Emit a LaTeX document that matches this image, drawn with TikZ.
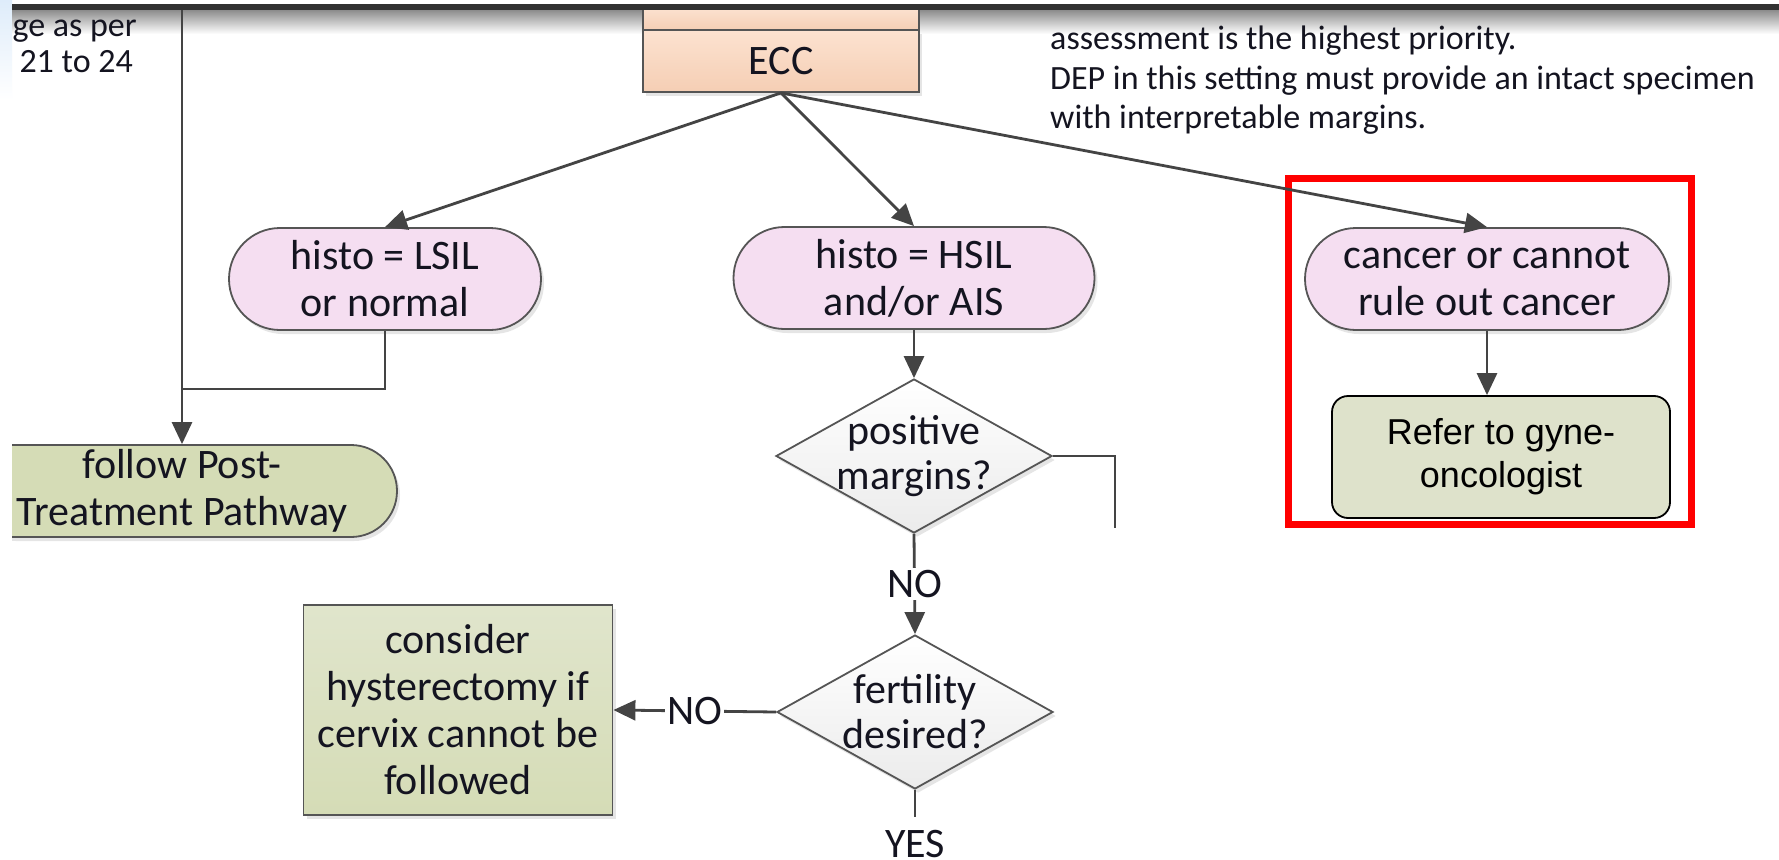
\documentclass[tikz,border=0pt]{standalone}
\usepackage{fontspec}
\setmainfont{Carlito}
\newfontfamily\arialf{Liberation Sans}
\usetikzlibrary{arrows.meta,shapes.geometric,shadows}
\definecolor{pinkf}{RGB}{245,222,241}
\definecolor{greenf}{RGB}{213,220,182}
\definecolor{greenl}{RGB}{224,229,204}
\definecolor{referf}{RGB}{222,226,203}
\definecolor{peachl}{RGB}{252,226,208}
\definecolor{peachd}{RGB}{245,206,180}
\definecolor{edgec}{RGB}{85,85,85}
\definecolor{arrc}{RGB}{68,68,68}
\definecolor{txtc}{RGB}{20,20,32}
\definecolor{barc}{RGB}{50,50,50}
\definecolor{bluel}{RGB}{222,236,250}
\definecolor{diag}{RGB}{235,235,235}
\tikzset{
  shad/.style={drop shadow={opacity=0.2, shadow xshift=3pt, shadow yshift=-4pt}},
  base/.style={draw=edgec, line width=1.8pt, text=txtc, align=center,
    font=\fontsize{42}{47}\selectfont, inner sep=0pt},
  pill/.style={base, shad, fill=pinkf, rounded corners=51pt, minimum height=102pt},
  eccbox/.style={base, top color=peachl, bottom color=peachd, minimum width=276pt},
  dia/.style={diamond, draw=edgec, line width=1.8pt, shad, top color=white, bottom color=diag,
    minimum width=276pt, minimum height=154pt, inner sep=0pt},
  dtext/.style={text=txtc, align=center, font=\fontsize{42}{45}\selectfont, inner sep=0pt},
  cons/.style={base, shad, top color=greenl, bottom color=greenf, minimum width=309pt, minimum height=210pt},
  post/.style={base, shad, fill=greenf, rounded corners=46pt, minimum height=92pt, minimum width=430pt},
  referbox/.style={draw=black, line width=1.8pt, fill=referf, rounded corners=16pt, align=center,
    font=\arialf\fontsize{36}{43}\selectfont, text=black, minimum width=338pt, minimum height=122pt, inner sep=0pt},
  lbl/.style={fill=white, inner sep=2pt, text=txtc, font=\fontsize{42}{47}\selectfont},
  ann/.style={text=txtc, inner sep=0pt, font=\fontsize{34}{39}\selectfont},
  arrowst/.style={draw=arrc, line width=2.8pt, -{Triangle[length=22pt,width=20pt]}},
  plainline/.style={draw=arrc, line width=2.8pt},
}
\begin{document}
\begin{tikzpicture}[x=1pt,y=-1pt]
\useasboundingbox (0,0) rectangle (1779,859);
\fill[white] (0,0) rectangle (1779,859);
\shade[top color=bluel, bottom color=white] (0,0) rectangle (12,100);
\begin{scope}
\clip (12,0) rectangle (1779,859);
% shadow under top bar
\shade[top color=black!45, bottom color=white] (12,10) rectangle (1779,34);
% left text
\node[ann, anchor=base east] (lt1) at (137,37) {nge as per};
\node[ann, anchor=base east] (lt2) at (133,72) {21 to 24};
% annotation text
\node[ann, anchor=base west] (a1) at (1050,50) {assessment is the highest priority.};
\node[ann, anchor=base west] (a2) at (1050,89) {DEP in this setting must provide an intact specimen};
\node[ann, anchor=base west] (a3) at (1050,128) {with interpretable margins.};
% ECC
\node[eccbox, minimum height=22pt] (upper) at (781,19) {};
\node[eccbox, shad, minimum height=62pt] (ecc) at (781,61) {ECC};
% pills
\node[pill, minimum width=312pt] (lsil) at (385,279) {histo = LSIL\\or normal};
\node[pill, minimum width=361pt] (hsil) at (914,278) {histo = HSIL\\and/or AIS};
\node[pill, minimum width=364pt] (canc) at (1487,279) {cancer or cannot\\rule out cancer};
% post treatment
\node[post] (post) at (182,491) {follow Post-\\Treatment Pathway};
% diamonds
\node[dia, label={[dtext]center:positive\\margins?}] (pm) at (914,456) {};
\node[dia, label={[dtext]center:fertility\\desired?}] (fert) at (915,712) {};
% consider
\node[cons] (cons) at (458,710) {consider\\hysterectomy if\\cervix cannot be\\followed};
% refer
\node[referbox] (ref) at (1501,457) {Refer to gyne-\\oncologist};
% red frame
\draw[red, line width=7pt] (1288,178) rectangle (1691,524);
% connectors
\draw[arrowst] (ecc.south) -- (lsil.north);
\draw[arrowst] (ecc.south) -- (hsil.north);
\draw[arrowst] (ecc.south) -- (canc.north);
\coordinate (topl) at (182,10);
\draw[arrowst] (topl) -- (post.north);
\coordinate (jn) at (182,389);
\draw[plainline] (lsil.south) |- (jn);
\draw[arrowst] (hsil.south) -- (pm.north);
\coordinate (pmr) at (1115,528);
\draw[plainline] (pm.east) -| (pmr);
\draw[arrowst] (pm.south) -- node[lbl] (no1) {NO} (fert.north);
\draw[arrowst] (fert.west) -- node[lbl] (no2) {NO} (cons.east);
\coordinate (yend) at (915,817);
\draw[plainline] (fert.south) -- (yend);
\node[lbl, fill=none, anchor=base] (yes) at (915,857) {YES};
\draw[arrowst] (canc.south) -- (canc.south |- ref.north);
% top bar
\fill[barc] (12,4) rectangle (1779,10);
\end{scope}
\end{tikzpicture}
\end{document}
